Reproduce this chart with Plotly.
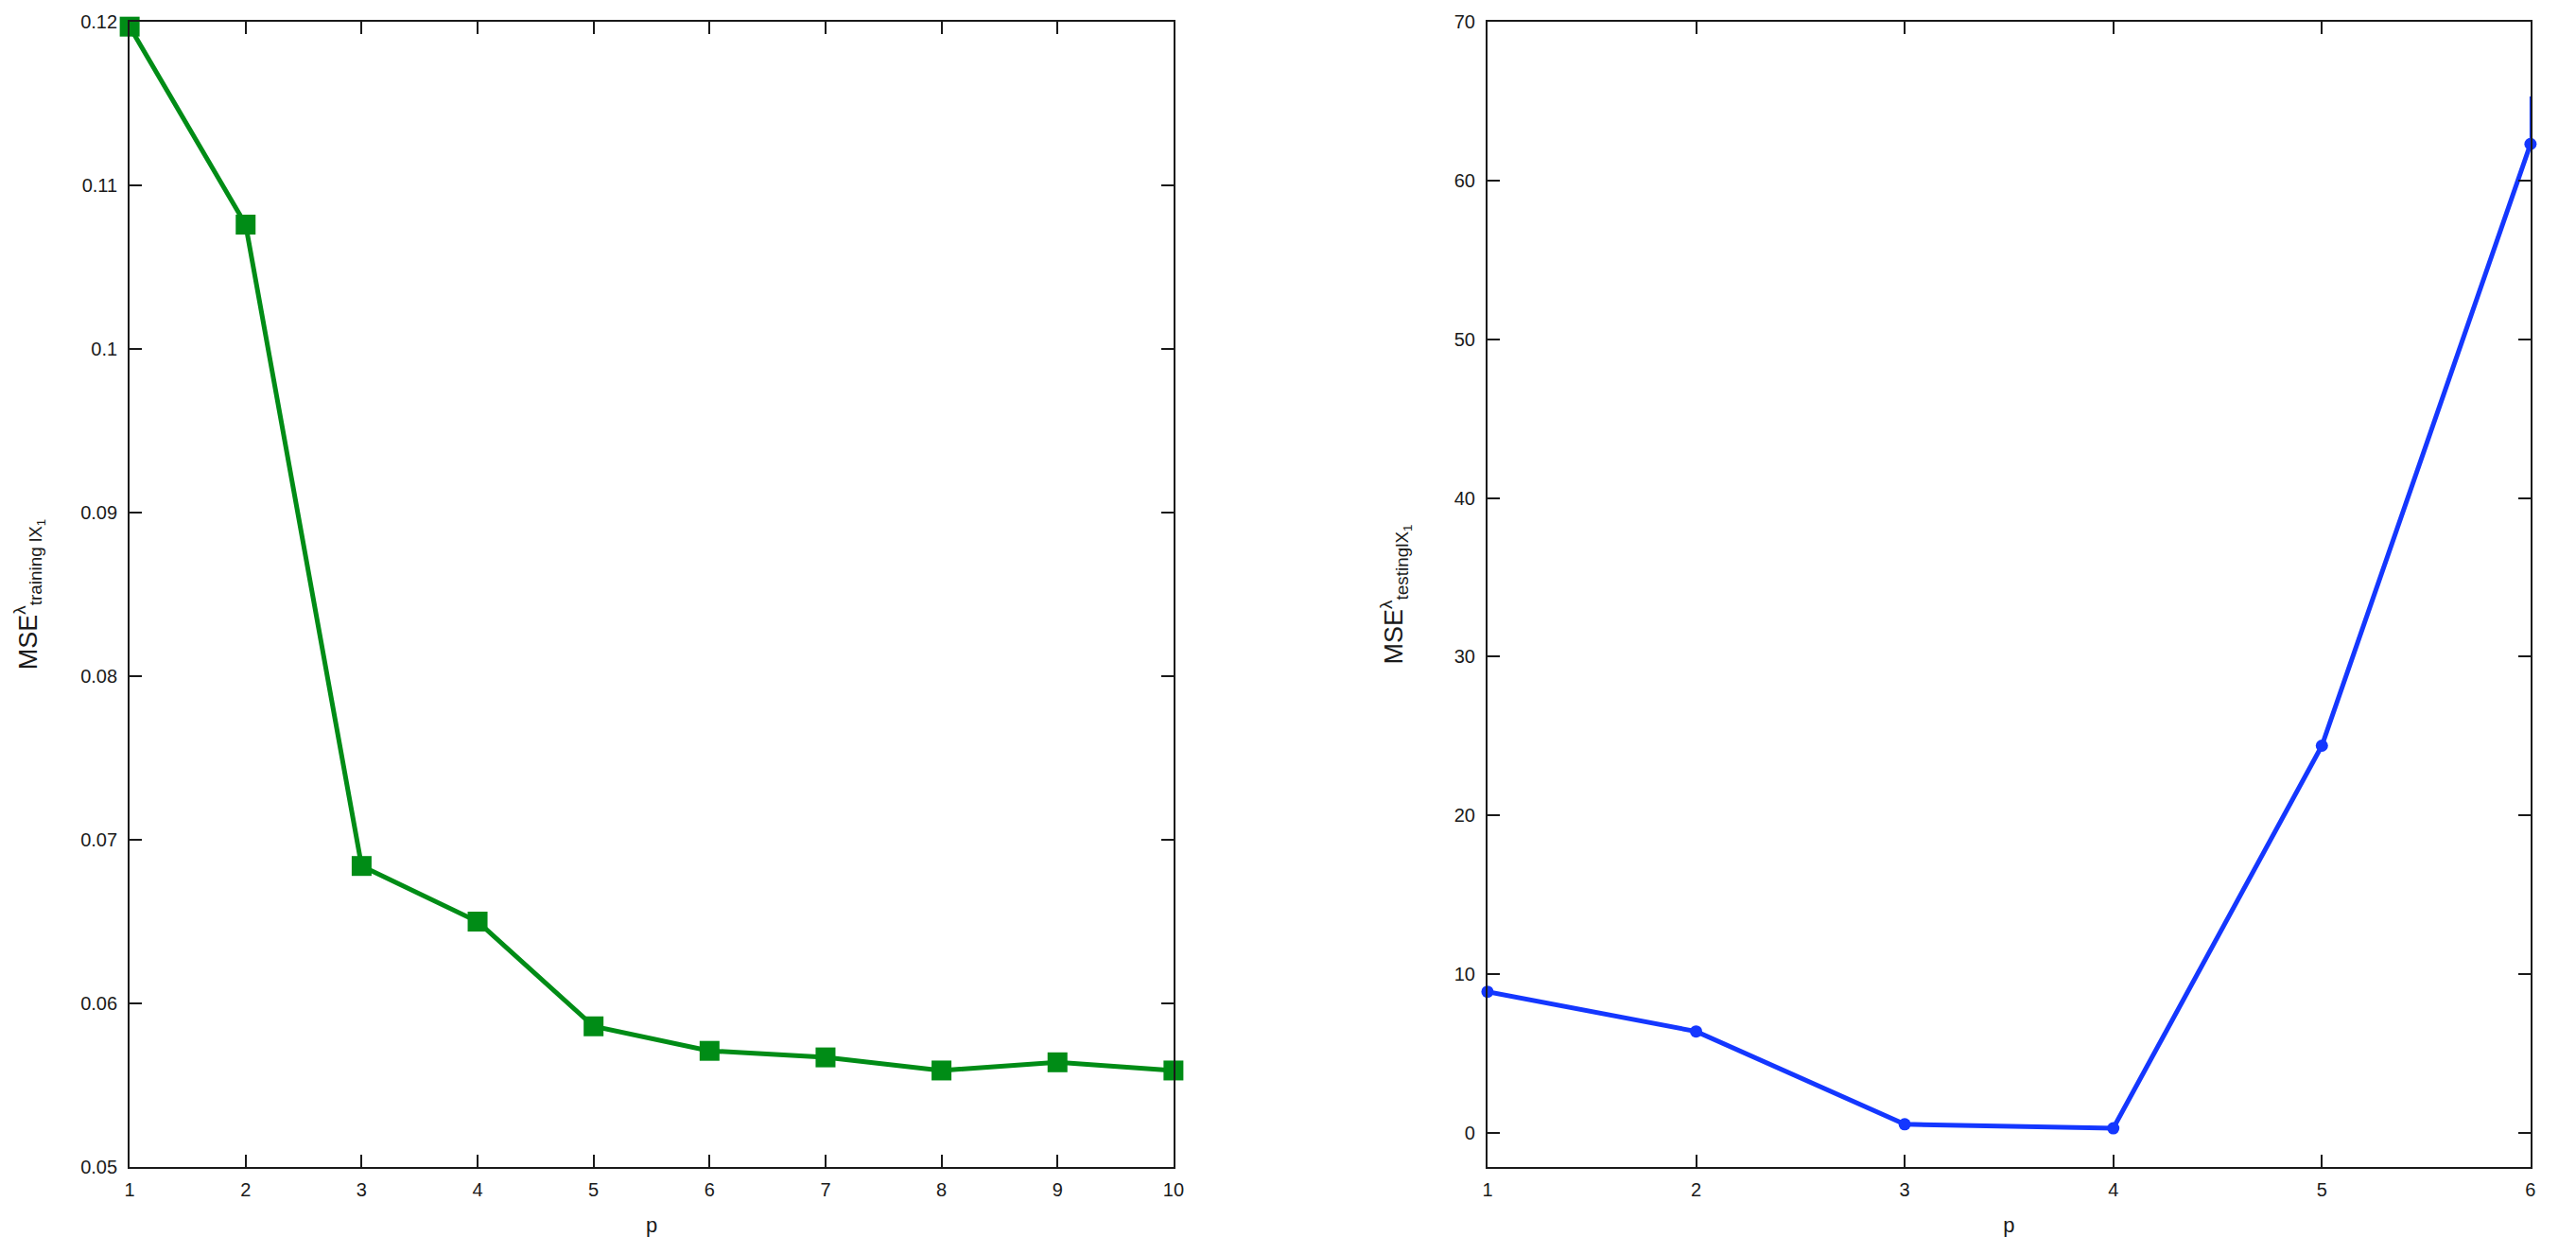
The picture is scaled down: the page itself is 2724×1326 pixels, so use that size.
import plotly.graph_objects as go
from plotly.subplots import make_subplots

# training error vs p (left panel)
p_train = [1, 2, 3, 4, 5, 6, 7, 8, 9, 10]
mse_train = [0.1197, 0.1076, 0.0684, 0.0650, 0.0586, 0.0571, 0.0567, 0.0559, 0.0564, 0.0559]

# testing error vs p (right panel)
p_test = [1, 2, 3, 4, 5, 6]
mse_test = [8.9, 6.4, 0.55, 0.3, 24.4, 62.3]
# thin stub drawn above the last test point
stub_x = [6, 6]
stub_y = [62.3, 65.3]

train_ticks = [0.05, 0.06, 0.07, 0.08, 0.09, 0.1, 0.11, 0.12]
train_ticktext = ["0.05", "0.06", "0.07", "0.08", "0.09", "0.1", "0.11", "0.12"]
test_ticks = [0, 10, 20, 30, 40, 50, 60, 70]

GREEN = "rgb(0,140,22)"
BLUE = "rgb(20,55,255)"
FONT = "Liberation Sans, Arial, sans-serif"
INK = "#1a1a1a"

fig = make_subplots(rows=1, cols=2)

fig.add_trace(go.Scatter(
    x=p_train, y=mse_train, mode="lines+markers",
    line=dict(color=GREEN, width=5),
    marker=dict(symbol="square", size=21, color=GREEN),
    showlegend=False, cliponaxis=False
), row=1, col=1)

fig.add_trace(go.Scatter(
    x=p_test, y=mse_test, mode="lines+markers",
    line=dict(color=BLUE, width=5),
    marker=dict(symbol="circle", size=13, color=BLUE),
    showlegend=False, cliponaxis=False
), row=1, col=2)

fig.add_trace(go.Scatter(
    x=stub_x, y=stub_y, mode="lines",
    line=dict(color=BLUE, width=2),
    showlegend=False, cliponaxis=False
), row=1, col=2)

axis_style = dict(
    showline=True, linecolor=INK, linewidth=2, mirror="allticks",
    ticks="inside", ticklen=13, tickwidth=2, tickcolor=INK,
    showgrid=False, zeroline=False, automargin=False,
    tickfont=dict(family=FONT, size=20, color=INK),
)

fig.update_xaxes(**axis_style)
fig.update_yaxes(**axis_style)

xtitle = dict(text="p", font=dict(family=FONT, size=22, color=INK), standoff=20)
fig.update_xaxes(range=[1, 10], tickvals=p_train, domain=[0.0474, 0.4526],
                 ticklabelstandoff=5, title=xtitle, row=1, col=1)
fig.update_xaxes(range=[1, 6], tickvals=p_test, domain=[0.5745, 0.9794],
                 ticklabelstandoff=5, title=xtitle, row=1, col=2)

# y titles: MSE^λ with a two-level subscript
YT = "MSE<sup>λ</sup><sub style='font-size:24px'>{}<sub>1</sub></sub>"
fig.update_yaxes(range=[0.05, 0.12], tickvals=train_ticks, ticktext=train_ticktext,
                 domain=[0.0754, 0.9887], ticklabelstandoff=7,
                 title=dict(text=YT.format("training lX"),
                            font=dict(family=FONT, size=27, color=INK), standoff=38),
                 row=1, col=1)
fig.update_yaxes(range=[-2.14, 70], tickvals=test_ticks,
                 domain=[0.0754, 0.9887], ticklabelstandoff=7,
                 title=dict(text=YT.format("testinglX"),
                            font=dict(family=FONT, size=27, color=INK), standoff=46),
                 row=1, col=2)

fig.update_layout(
    width=2724, height=1326, autosize=False,
    margin=dict(l=0, r=0, t=0, b=0),
    paper_bgcolor="white", plot_bgcolor="white",
    font=dict(family=FONT),
)

fig.write_html("out.html")
